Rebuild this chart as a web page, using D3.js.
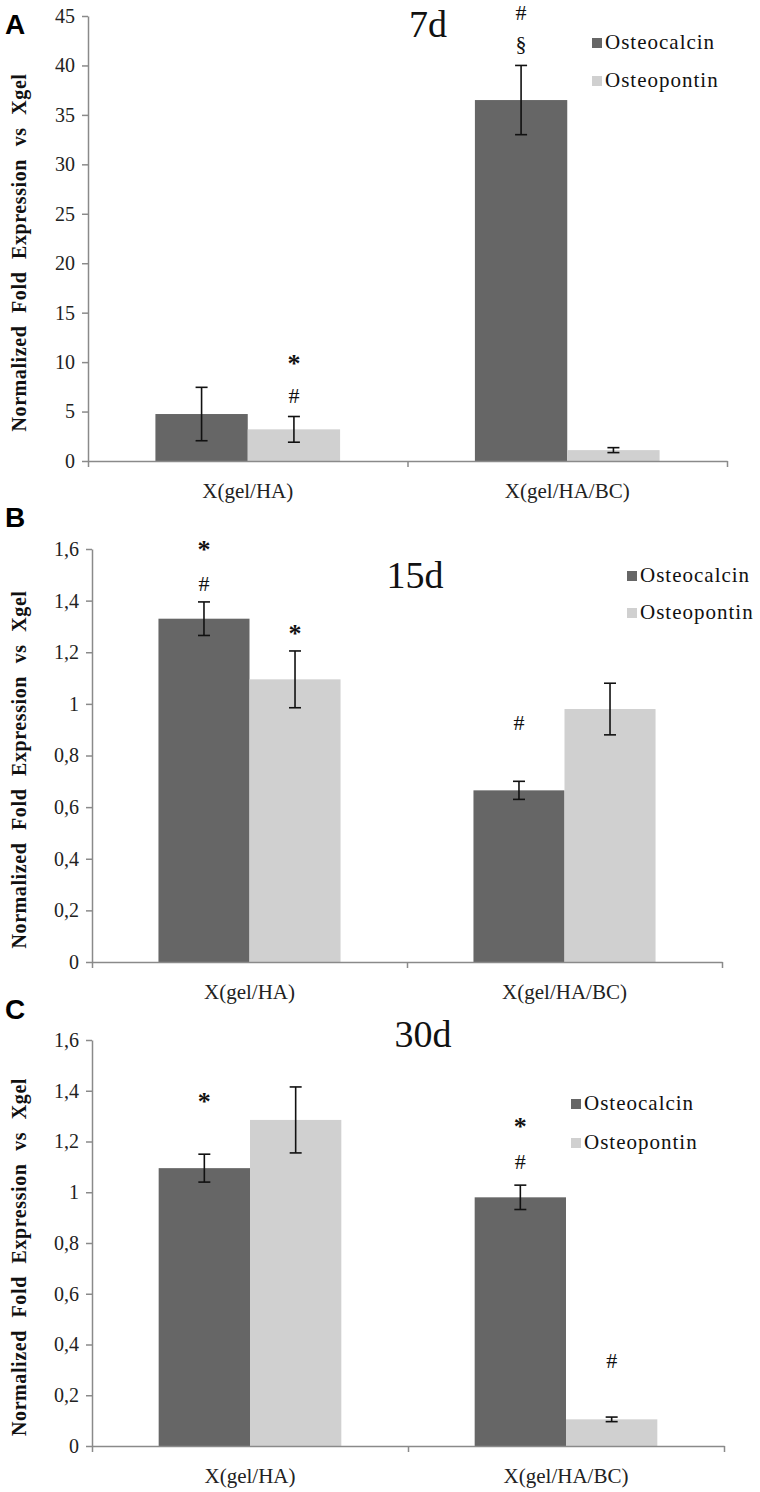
<!DOCTYPE html>
<html>
<head>
<meta charset="utf-8">
<script src="https://cdn.jsdelivr.net/npm/d3@7"></script>
<style>
  body { margin: 0; background: #fff; }
  svg { display: block; }
</style>
</head>
<body>
<svg id="chart" width="760" height="1492"></svg>
<script>
const categories = ["X(gel/HA)", "X(gel/HA/BC)"];
const seriesNames = ["Osteocalcin", "Osteopontin"];
const days = ["7d", "15d", "30d"];
const panelLetters = ["A", "B", "C"];

// values + symmetric error
const ocn7 = [4.75, 36.5];
const ocn7Err = [2.7, 3.5];
const opn7 = [3.2, 1.1];
const opn7Err = [1.3, 0.25];

const ocn15 = [1.33, 0.665];
const ocn15Err = [0.065, 0.035];
const opn15 = [1.095, 0.98];
const opn15Err = [0.11, 0.1];

const ocn30 = [1.095, 0.98];
const ocn30Err = [0.055, 0.048];
const opn30 = [1.285, 0.105];
const opn30Err = [0.13, 0.009];

const ticks7 = [0, 5, 10, 15, 20, 25, 30, 35, 40, 45];
const tickLabels7 = ["0", "5", "10", "15", "20", "25", "30", "35", "40", "45"];
const ticksSmall = [0, 0.2, 0.4, 0.6, 0.8, 1, 1.2, 1.4, 1.6];
const tickLabelsSmall = ["0", "0,2", "0,4", "0,6", "0,8", "1", "1,2", "1,4", "1,6"];

// significance marks: category index, series index, symbol, level in data units
const marks7 = [
  [0, 1, "*", 10.2], [0, 1, "#", 6.6],
  [1, 0, "#", 45.3], [1, 0, "§", 42.2]
];
const marks15 = [
  [0, 0, "*", 1.61], [0, 0, "#", 1.465],
  [0, 1, "*", 1.285],
  [1, 0, "#", 0.925]
];
const marks30 = [
  [0, 0, "*", 1.37],
  [1, 0, "*", 1.272], [1, 0, "#", 1.12],
  [1, 1, "#", 0.335]
];

const colors = { Osteocalcin: "#666666", Osteopontin: "#d0d0d0" };
const SERIF = '"Liberation Serif", "Times New Roman", Times, serif';

const panels = [
  { ocn: ocn7, ocnErr: ocn7Err, opn: opn7, opnErr: opn7Err, ticks: ticks7, labels: tickLabels7, max: 45, marks: marks7,
    top: 16, bottom: 461, left: 88, right: 727, letterY: 34, titleX: 428, titleY: 37, legX: 592, legY: 38, legGap: 38 },
  { ocn: ocn15, ocnErr: ocn15Err, opn: opn15, opnErr: opn15Err, ticks: ticksSmall, labels: tickLabelsSmall, max: 1.6, marks: marks15,
    top: 549, bottom: 962, left: 92, right: 722, letterY: 527, titleX: 415, titleY: 588, legX: 627, legY: 571, legGap: 37 },
  { ocn: ocn30, ocnErr: ocn30Err, opn: opn30, opnErr: opn30Err, ticks: ticksSmall, labels: tickLabelsSmall, max: 1.6, marks: marks30,
    top: 1040, bottom: 1446, left: 92, right: 724, letterY: 1019, titleX: 423, titleY: 1047, legX: 571, legY: 1099, legGap: 39 }
];

const svg = d3.select('#chart');

panels.forEach((p, pi) => {
  const g = svg.append('g');

  const y = d3.scaleLinear().domain([0, p.max]).range([p.bottom, p.top]);
  const x0 = d3.scaleBand().domain(categories).range([p.left, p.right]).padding(0);
  const x1 = d3.scaleBand().domain(seriesNames).range([0, x0.bandwidth()])
    .paddingInner(0).paddingOuter(0.73);

  const rows = [];
  categories.forEach((c, ci) => {
    rows.push({ cat: c, ser: "Osteocalcin", v: p.ocn[ci], e: p.ocnErr[ci] });
    rows.push({ cat: c, ser: "Osteopontin", v: p.opn[ci], e: p.opnErr[ci] });
  });

  // bars
  g.selectAll('rect.bar')
    .data(rows)
    .enter()
    .append('rect')
    .attr('class', 'bar')
    .attr('x', d => x0(d.cat) + x1(d.ser))
    .attr('y', d => y(d.v))
    .attr('width', x1.bandwidth())
    .attr('height', d => y(0) - y(d.v))
    .attr('fill', d => colors[d.ser]);

  // y axis
  const yAxis = g.append('g')
    .attr('transform', `translate(${p.left},0)`)
    .call(d3.axisLeft(y).tickValues(p.ticks).tickFormat((d, i) => p.labels[i])
      .tickSize(6).tickSizeOuter(0).tickPadding(7));
  yAxis.attr('font-family', null);
  yAxis.select('.domain').attr('stroke', '#8a8a8a').attr('stroke-width', 1.5);
  yAxis.selectAll('.tick line').attr('stroke', '#8a8a8a').attr('stroke-width', 1.5);
  yAxis.selectAll('.tick text')
    .style('font-family', SERIF)
    .style('font-size', '20px')
    .attr('fill', '#222');

  // x axis with boundary ticks
  const xb = d3.scaleLinear().domain([0, categories.length]).range([p.left, p.right]);
  const xAxis = g.append('g')
    .attr('transform', `translate(0,${p.bottom})`)
    .call(d3.axisBottom(xb).tickValues(d3.range(categories.length + 1)).tickFormat('')
      .tickSize(6).tickSizeOuter(0));
  xAxis.select('.domain').attr('stroke', '#8a8a8a').attr('stroke-width', 1.5);
  xAxis.selectAll('.tick line').attr('stroke', '#8a8a8a').attr('stroke-width', 1.5);

  g.selectAll('text.cat')
    .data(categories)
    .enter()
    .append('text')
    .attr('class', 'cat')
    .attr('x', d => x0(d) + x0.bandwidth() / 2)
    .attr('y', p.bottom + 37)
    .attr('text-anchor', 'middle')
    .style('font-family', SERIF)
    .style('font-size', '21px')
    .attr('fill', '#222')
    .text(d => d);

  // error bars
  const cap = 6;
  const eb = g.selectAll('g.err')
    .data(rows)
    .enter()
    .append('g')
    .attr('class', 'err')
    .attr('stroke', '#111')
    .attr('stroke-width', 1.6);
  const cx = d => x0(d.cat) + x1(d.ser) + x1.bandwidth() / 2;
  eb.append('line')
    .attr('x1', cx).attr('x2', cx)
    .attr('y1', d => y(d.v - d.e)).attr('y2', d => y(d.v + d.e));
  eb.append('line')
    .attr('x1', d => cx(d) - cap).attr('x2', d => cx(d) + cap)
    .attr('y1', d => y(d.v + d.e)).attr('y2', d => y(d.v + d.e));
  eb.append('line')
    .attr('x1', d => cx(d) - cap).attr('x2', d => cx(d) + cap)
    .attr('y1', d => y(d.v - d.e)).attr('y2', d => y(d.v - d.e));

  // significance marks
  g.selectAll('text.mark')
    .data(p.marks)
    .enter()
    .append('text')
    .attr('class', 'mark')
    .attr('x', d => x0(categories[d[0]]) + x1(seriesNames[d[1]]) + x1.bandwidth() / 2)
    .attr('y', d => y(d[3]) + (d[2] === "*" ? 12 : 7))
    .attr('text-anchor', 'middle')
    .style('font-family', SERIF)
    .style('font-size', d => d[2] === "*" ? '26px' : '22px')
    .style('font-weight', d => d[2] === "*" ? 'bold' : 'normal')
    .attr('fill', '#111')
    .text(d => d[2]);

  // title
  g.append('text')
    .attr('x', p.titleX)
    .attr('y', p.titleY)
    .attr('text-anchor', 'middle')
    .style('font-family', SERIF)
    .style('font-size', '38px')
    .attr('fill', '#111')
    .text(days[pi]);

  // legend
  const leg = g.selectAll('g.leg')
    .data(seriesNames)
    .enter()
    .append('g')
    .attr('class', 'leg')
    .attr('transform', (d, i) => `translate(${p.legX},${p.legY + i * p.legGap})`);
  leg.append('rect')
    .attr('width', 10).attr('height', 10)
    .attr('fill', d => colors[d]);
  leg.append('text')
    .attr('x', 13)
    .attr('y', 11)
    .style('font-family', SERIF)
    .style('font-size', '21px')
    .style('letter-spacing', '1px')
    .attr('fill', '#111')
    .text(d => d);

  // y label
  g.append('text')
    .attr('transform', `translate(26,${(p.top + p.bottom) / 2 + 14}) rotate(-90)`)
    .attr('text-anchor', 'middle')
    .style('font-family', SERIF)
    .style('font-size', '20px')
    .style('font-weight', 'bold')
    .style('letter-spacing', '0.6px')
    .style('word-spacing', '7px')
    .attr('fill', '#111')
    .text('Normalized Fold Expression vs Xgel');

  // panel letter
  g.append('text')
    .attr('x', 5)
    .attr('y', p.letterY)
    .style('font-family', 'Arial, "Liberation Sans", sans-serif')
    .style('font-size', '28px')
    .style('font-weight', 'bold')
    .attr('fill', '#000')
    .text(panelLetters[pi]);
});
</script>
</body>
</html>
